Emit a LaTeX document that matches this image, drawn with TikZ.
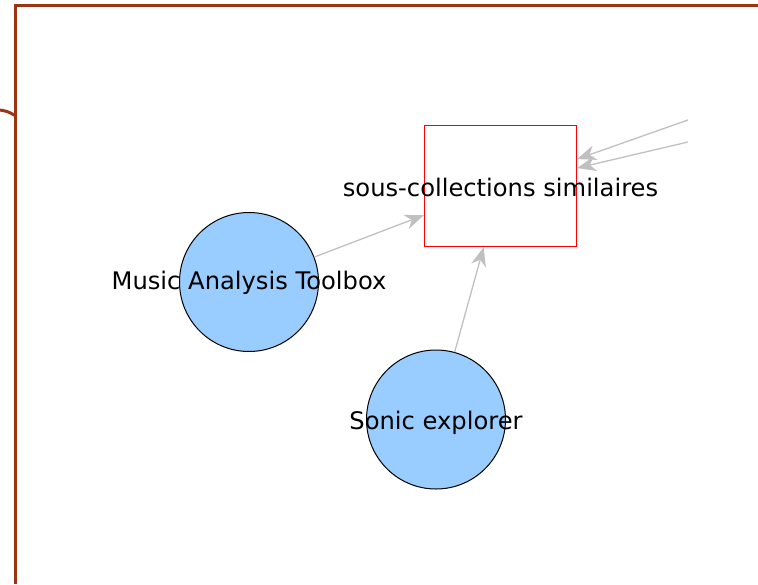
\documentclass[tikz,border=0pt]{standalone}
\usepackage{fontspec}
\setmainfont{DejaVu Sans}
\usepackage{tikz}
\usetikzlibrary{arrows.meta}
\definecolor{frameBrown}{RGB}{155,52,18}
\definecolor{toolBlue}{RGB}{153,204,255}
\definecolor{linkGray}{RGB}{192,192,192}

\begin{document}
\begin{tikzpicture}[x=1pt,y=-1pt, every node/.style={font=\fontsize{24.2}{28}\selectfont},
  tool/.style={circle,draw=black,fill=toolBlue,minimum size=139pt,inner sep=0pt,line width=1pt},
  topic/.style={draw=red,minimum width=152pt,minimum height=121pt,inner sep=0pt,line width=1.2pt},
  link/.style={linkGray,line width=1.3pt,-{Stealth[length=19pt,width=15pt,inset=6pt]}}]
\useasboundingbox (0,0) rectangle (758,584);

\draw[frameBrown,line width=3pt] (15,584) -- (15,5) -- (758,5);
\draw[frameBrown,line width=3pt] (0,110) .. controls (8,111.5) .. (15,115.5);

\node[topic,label={[yshift=-1pt]center:sous-collections similaires}] (sc) at (500.5,186) {};
\node[tool,label={[yshift=-1pt]center:Music Analysis Toolbox}] (mat) at (249,282) {};
\node[tool,label={[yshift=-3pt]center:Sonic explorer}] (sonic) at (436,419.5) {};
\coordinate (in1) at (688,120);
\coordinate (in2) at (688,142);

\draw[link] (mat) -- (sc);
\draw[link] (sonic) -- (sc);
\draw[link] (in1) -- (sc);
\draw[link] (in2) -- (sc);

\end{tikzpicture}
\end{document}
